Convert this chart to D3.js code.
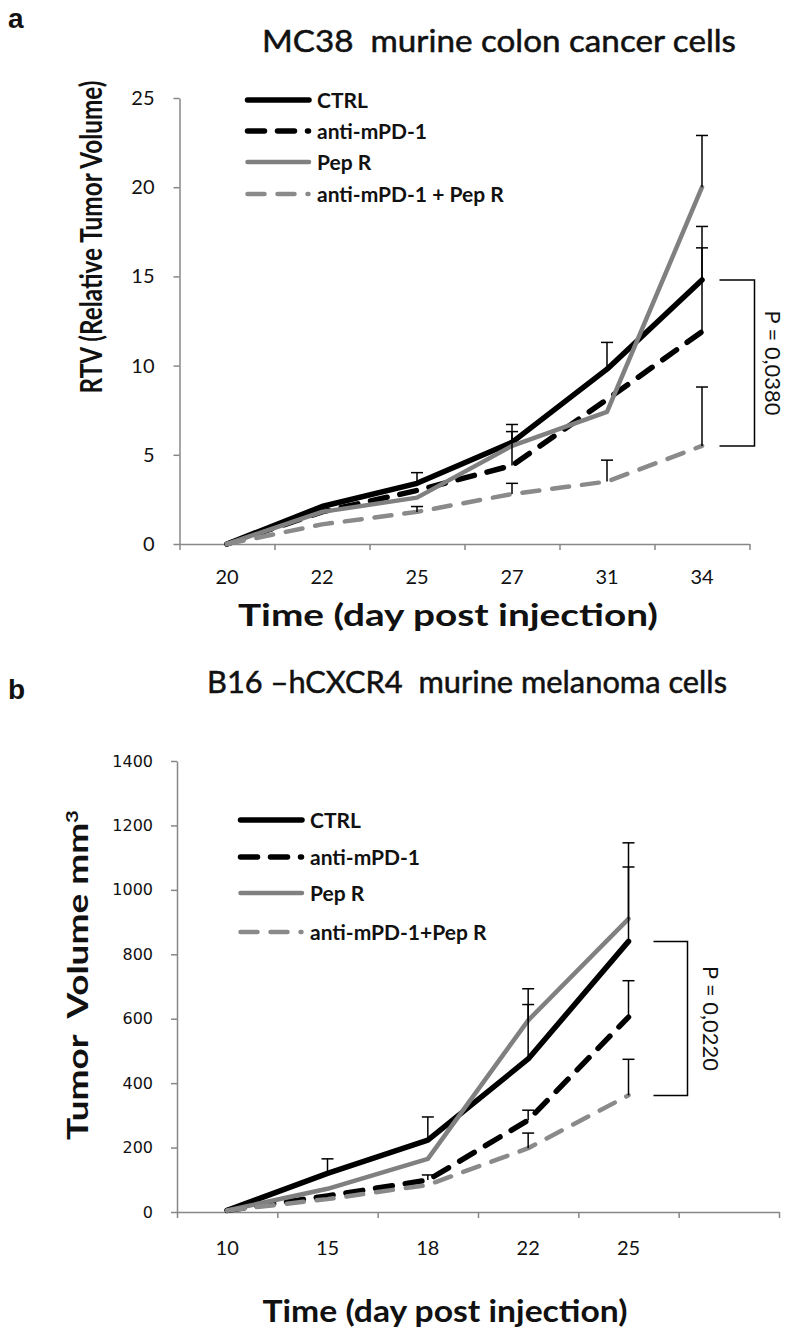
<!DOCTYPE html>
<html><head><meta charset="utf-8">
<script src="https://cdn.jsdelivr.net/npm/d3@7"></script>
<style>body{margin:0;background:#fff} svg{display:block} text{white-space:pre}</style>
</head><body>
<svg id="chart" width="787" height="1331"></svg>
<script>
// ---------- Panel a data ----------
const daysA = ["20","22","25","27","31","34"];
const ctrlA  = [0, 2.1, 3.4, 5.7, 9.8, 14.8];
const antiA  = [0, 1.8, 3.0, 4.4, 8.1, 11.9];
const pepA   = [0, 1.8, 2.6, 5.5, 7.4, 20.0];
const comboA = [0, 1.1, 1.8, 2.8, 3.5, 5.5];
const ctrlAErr  = [0, 0, 0.6, 1.0, 1.5, 3.0];
const antiAErr  = [0, 0, 0, 1.9, 0, 4.7];
const pepAErr   = [0, 0, 0, 0, 0, 2.9];
const comboAErr = [0, 0, 0.3, 0.6, 1.2, 3.3];
const yTicksA = [0, 5, 10, 15, 20, 25];
const legendA = ["CTRL", "anti-mPD-1", "Pep R", "anti-mPD-1 + Pep R"];
const pTextA = "P = 0,0380";

// ---------- Panel b data ----------
const daysB = ["10","15","18","22","25",""];
const ctrlB  = [5, 120, 223, 475, 840];
const antiB  = [5, 50, 99, 285, 605];
const pepB   = [5, 72, 165, 595, 910];
const comboB = [5, 40, 84, 198, 362];
const ctrlBErr  = [0, 45, 72, 169, 231];
const antiBErr  = [0, 0, 16, 31, 113];
const pepBErr   = [0, 0, 0, 98, 236];
const comboBErr = [0, 0, 0, 47, 112];
const yTicksB = [0, 200, 400, 600, 800, 1000, 1200, 1400];
const legendB = ["CTRL", "anti-mPD-1", "Pep R", "anti-mPD-1+Pep R"];
const pTextB = "P = 0,0220";

const svg = d3.select("#chart");
const FONT = "Lato, 'Open Sans', sans-serif";
const AXC = "#878787";

const styles = [
  {c: "#000000", w: 5.5, d: null},
  {c: "#000000", w: 5.5, d: "17,13"},
  {c: "#808080", w: 4.5, d: null},
  {c: "#8a8a8a", w: 4.5, d: "17,13"}
];

function panel(cfg) {
  const g = svg.append("g");
  const x = d3.scaleBand().domain(cfg.days).range(cfg.xr).padding(0);
  const y = d3.scaleLinear().domain(cfg.yd).range(cfg.yr);
  const xc = d => x(d) + x.bandwidth() / 2;

  // y axis
  const ya = g.append("g").attr("transform", `translate(${cfg.xr[0]},0)`)
    .call(d3.axisLeft(y).tickValues(cfg.yTicks).tickFormat(d3.format("d"))
      .tickSize(6).tickSizeOuter(0).tickPadding(cfg.yPad));
  ya.selectAll("path,line").attr("stroke", AXC).attr("stroke-width", 1.5);
  ya.selectAll("text").attr("font-family", cfg.yFont).attr("font-size", cfg.yFs).attr("fill", "#111");

  // x axis: boundary ticks
  const xi = d3.scaleLinear().domain([0, cfg.days.length]).range(cfg.xr);
  const xb = g.append("g").attr("transform", `translate(0,${cfg.yr[0]})`)
    .call(d3.axisBottom(xi).tickValues(d3.range(cfg.days.length + 1)).tickFormat("").tickSize(6).tickSizeOuter(0));
  xb.selectAll("path,line").attr("stroke", AXC).attr("stroke-width", 1.5);
  // x axis: category labels
  const xl = g.append("g").attr("transform", `translate(0,${cfg.yr[0]})`)
    .call(d3.axisBottom(x).tickSize(0).tickPadding(cfg.xPad));
  xl.select(".domain").remove();
  xl.selectAll("text").attr("font-family", FONT).attr("font-size", cfg.xFs).attr("fill", "#111");

  // lines
  cfg.series.forEach((s, k) => {
    const st = styles[k];
    g.append("path").datum(s.v)
      .attr("d", d3.line().x((d, i) => xc(cfg.days[i])).y(d => y(d)))
      .attr("fill", "none").attr("stroke", st.c).attr("stroke-width", st.w)
      .attr("stroke-linejoin", "round").attr("stroke-linecap", "round")
      .attr("stroke-dasharray", st.d);
  });
  // error bars
  cfg.series.forEach((s, k) => {
    s.v.forEach((v, i) => {
      const e = s.e[i];
      if (!e) return;
      const cx = xc(cfg.days[i]);
      g.append("line").attr("x1", cx).attr("x2", cx).attr("y1", y(v)).attr("y2", y(v + e))
        .attr("stroke", "#000").attr("stroke-width", 1.5);
      g.append("line").attr("x1", cx - 6).attr("x2", cx + 6).attr("y1", y(v + e)).attr("y2", y(v + e))
        .attr("stroke", "#000").attr("stroke-width", 1.5);
    });
  });

  // legend
  cfg.legend.forEach((name, k) => {
    const st = styles[k];
    const ly = cfg.legY[k];
    g.append("line").attr("x1", cfg.legX + 2.5).attr("x2", cfg.legX + (st.d ? 63.5 : 64)).attr("y1", ly).attr("y2", ly)
      .attr("stroke", st.c).attr("stroke-width", st.w).attr("stroke-linecap", "round")
      .attr("stroke-dasharray", st.d);
    g.append("text").attr("x", cfg.legX + 72).attr("y", ly).attr("dy", "0.36em")
      .attr("font-family", FONT).attr("font-weight", "bold").attr("font-size", cfg.legFs)
      .attr("fill", "#111").text(name);
  });

  // p-value bracket
  const last = cfg.series[0].v.length - 1;
  const lx = xc(cfg.days[last]);
  const yt = y(cfg.series[0].v[last]), yb = y(cfg.series[3].v[last]);
  const b0 = lx + cfg.br[0], b1 = lx + cfg.br[1];
  g.append("path").attr("d", `M${b0},${yt}H${b1}V${yb}H${b0}`)
    .attr("fill", "none").attr("stroke", "#000").attr("stroke-width", 1.5);
  g.append("text").attr("transform", `translate(${lx + cfg.br[2]},${(yt + yb) / 2}) rotate(90)`)
    .attr("text-anchor", "middle").attr("dy", "0.36em")
    .attr("font-family", FONT).attr("font-size", 21)
    .attr("textLength", 105).attr("lengthAdjust", "spacingAndGlyphs")
    .attr("fill", "#111").text(cfg.pText);

  // titles
  g.append("text").attr("x", 8).attr("y", cfg.letterY).attr("font-family", "'Liberation Sans', Arial, sans-serif")
    .attr("font-weight", "bold").attr("font-size", 28).attr("fill", "#111").text(cfg.letter);
  g.append("text").attr("x", cfg.title[0]).attr("y", cfg.title[1]).attr("text-anchor", "middle")
    .attr("font-family", FONT).attr("font-weight", "normal").attr("font-size", cfg.title[3])
    .attr("textLength", cfg.title[2]).attr("lengthAdjust", "spacingAndGlyphs")
    .attr("stroke", "#111").attr("stroke-width", 0.5)
    .attr("fill", "#111").text(cfg.titleText);
  g.append("text").attr("x", cfg.xlab[0]).attr("y", cfg.xlab[1]).attr("text-anchor", "middle")
    .attr("font-family", FONT).attr("font-weight", "bold").attr("font-size", cfg.xlab[3])
    .attr("textLength", cfg.xlab[2]).attr("lengthAdjust", "spacingAndGlyphs")
    .attr("fill", "#111").text("Time (day post injection)");
  const yl = g.append("text").attr("transform", `translate(${cfg.ylab[0]},${cfg.ylab[1]}) rotate(-90)`)
    .attr("text-anchor", "middle").attr("dy", "0.35em")
    .attr("font-family", FONT).attr("font-weight", "bold").attr("font-size", cfg.ylab[3])
    .attr("textLength", cfg.ylab[2]).attr("lengthAdjust", "spacingAndGlyphs")
    .attr("fill", "#111");
  cfg.ylabParts.forEach(p => {
    const t = yl.append("tspan").text(p.t);
    if (p.sup) t.attr("font-size", cfg.ylab[3] * 0.6).attr("dy", "-0.6em");
  });
}

panel({
  days: daysA, xr: [179.5, 749.5], yd: [0, 25], yr: [544, 98],
  yTicks: yTicksA, yPad: 19, yFont: FONT, yFs: 20, xPad: 26, xFs: 20,
  series: [
    {v: ctrlA, e: ctrlAErr}, {v: antiA, e: antiAErr},
    {v: pepA, e: pepAErr}, {v: comboA, e: comboAErr}
  ],
  legend: legendA, legX: 245, legY: [100, 131, 162, 194], legFs: 21,
  br: [17.5, 52.5, 71], pText: pTextA,
  letter: "a", letterY: 28,
  titleText: "MC38  murine colon cancer cells", title: [499, 52, 474, 30],
  xlab: [448, 626, 420, 31],
  ylab: [91, 237, 313, 30], ylabParts: [{t: "RTV (Relative Tumor Volume)"}]
});

panel({
  days: daysB, xr: [177, 779], yd: [0, 1400], yr: [1212, 761],
  yTicks: yTicksB, yPad: 18, yFont: "'DejaVu Sans', Verdana, sans-serif", yFs: 16, xPad: 29, xFs: 20,
  series: [
    {v: ctrlB, e: ctrlBErr}, {v: antiB, e: antiBErr},
    {v: pepB, e: pepBErr}, {v: comboB, e: comboBErr}
  ],
  legend: legendB, legX: 238, legY: [820, 857, 893, 932], legFs: 21,
  br: [25, 59, 82], pText: pTextB,
  letter: "b", letterY: 699,
  titleText: "B16 \u2013hCXCR4  murine melanoma cells", title: [467, 693, 520, 30],
  xlab: [445, 1322, 365, 30],
  ylab: [78, 975, 330, 29], ylabParts: [{t: "Tumor  Volume mm"}, {t: "3", sup: true}]
});
</script>
</body></html>
